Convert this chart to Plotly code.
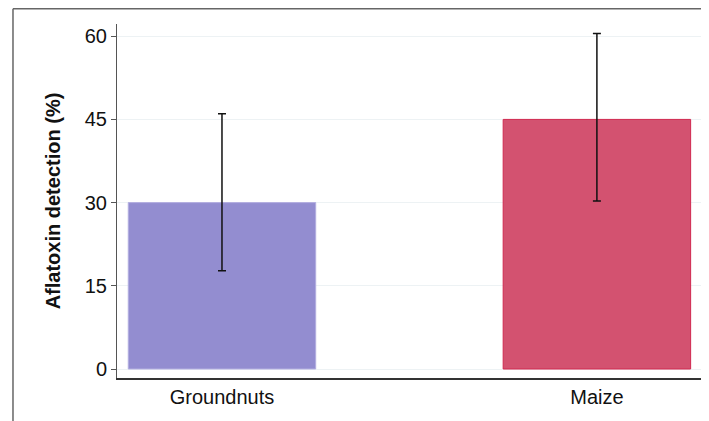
import plotly.graph_objects as go

categories = ["Groundnuts", "Maize"]
detection = [30, 45]
err_plus = [16.0, 15.5]
err_minus = [12.3, 14.7]
bar_colors = ["#938DD0", "#D35270"]
bar_line_colors = ["#B3AEE0", "#D0284F"]
y_ticks = [0, 15, 30, 45, 60]

fig = go.Figure()
fig.add_trace(go.Bar(
    x=[0, 1],
    y=detection,
    width=0.5,
    marker=dict(color=bar_colors, line=dict(color=bar_line_colors, width=1)),
    error_y=dict(type="data", symmetric=False, array=err_plus, arrayminus=err_minus,
                 color="#111111", thickness=1.5, width=4),
    showlegend=False,
))

# page has an 8px body margin, so the figure is 701x413
fig.update_layout(
    width=701, height=413,
    margin=dict(l=109, r=6, t=16, b=43),
    paper_bgcolor="white", plot_bgcolor="white",
    font=dict(family="Liberation Sans, Arial, sans-serif", color="#111111"),
)
fig.update_xaxes(
    range=[-0.28, 1.283],
    tickmode="array", tickvals=[0, 1], ticktext=categories,
    tickfont=dict(size=20, color="#111111"),
    showline=True, linecolor="#333333", linewidth=1.5,
    ticks="", showgrid=False, zeroline=False,
)
fig.update_yaxes(
    range=[-1.62, 62.2],
    tickmode="array", tickvals=y_ticks,
    tickfont=dict(size=20, color="#111111"),
    showline=True, linecolor="#555555", linewidth=1,
    ticks="outside", ticklen=5, tickcolor="#555555",
    showgrid=True, gridcolor="#EDF2F4", gridwidth=1, zeroline=False,
    title=dict(text="<b>Aflatoxin detection (%)</b>", font=dict(size=20, color="#111111"), standoff=18),
)

# outer frame (top and left edges)
fig.add_shape(type="line", xref="paper", yref="paper", x0=-0.1775, x1=1.2, y0=1.043, y1=1.043,
              line=dict(color="#666666", width=1.5))
fig.add_shape(type="line", xref="paper", yref="paper", x0=-0.1775, x1=-0.1775, y0=1.043, y1=-0.3,
              line=dict(color="#666666", width=1.5))

fig.write_html("out.html")
